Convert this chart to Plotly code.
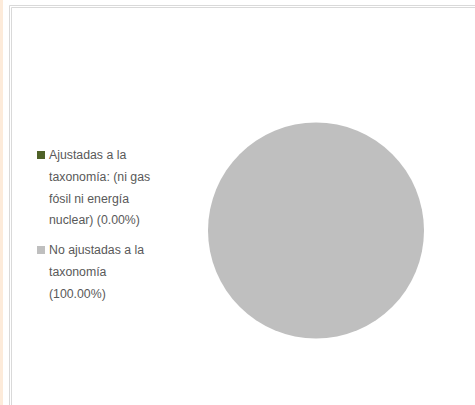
import plotly.graph_objects as go

W, H = 475, 405

labels = ["Ajustadas a la taxonomía: (ni gas fósil ni energía nuclear)",
          "No ajustadas a la taxonomía"]
values = [0.0, 100.0]
colors = ["#4F6228", "#BFBFBF"]
legend_lines = [
    ["Ajustadas a la", "taxonomía: (ni gas", "fósil ni energía", "nuclear) (0.00%)"],
    ["No ajustadas a la", "taxonomía", "(100.00%)"],
]

fig = go.Figure()
fig.add_trace(go.Pie(
    labels=labels, values=values, sort=False, direction="clockwise",
    marker=dict(colors=colors, line=dict(width=0)),
    textinfo="none", hoverinfo="label+percent", showlegend=False,
    domain=dict(x=[208 / W, 424 / W], y=[1 - 339 / H, 1 - 122 / H]),
))

def px(x):
    return x / W

def py(y):
    return 1 - y / H

shapes = [
    dict(type="rect", xref="paper", yref="paper", x0=0, x1=px(3), y0=0, y1=1,
         fillcolor="#FDEBDA", line=dict(width=0), layer="below"),
    dict(type="line", xref="paper", yref="paper", x0=px(9.5), x1=px(9.5), y0=0, y1=py(5.5),
         line=dict(color="#D9D9D9", width=1)),
    dict(type="line", xref="paper", yref="paper", x0=px(11.5), x1=px(11.5), y0=0, y1=py(7.5),
         line=dict(color="#D9D9D9", width=1)),
    dict(type="line", xref="paper", yref="paper", x0=px(9.5), x1=1, y0=py(5.5), y1=py(5.5),
         line=dict(color="#D9D9D9", width=1)),
    dict(type="line", xref="paper", yref="paper", x0=px(11.5), x1=1, y0=py(7.5), y1=py(7.5),
         line=dict(color="#D9D9D9", width=1)),
]

annotations = []
starts = [155, 250]
spacing = 21.8
for i, lines in enumerate(legend_lines):
    y0 = starts[i]
    shapes.append(dict(type="rect", xref="paper", yref="paper",
                       x0=px(37), x1=px(45), y0=py(y0 + 4), y1=py(y0 - 4),
                       fillcolor=colors[i], line=dict(width=0)))
    for j, t in enumerate(lines):
        annotations.append(dict(
            text=t, xref="paper", yref="paper", x=px(46.5), y=py(y0 + j * spacing),
            xanchor="left", yanchor="middle", showarrow=False,
            font=dict(family="Liberation Sans", size=12.3, color="#595959"),
        ))

fig.update_layout(
    width=W, height=H, margin=dict(l=0, r=0, t=0, b=0),
    paper_bgcolor="white", plot_bgcolor="white",
    shapes=shapes, annotations=annotations,
)

fig.write_html("out.html", config={"displayModeBar": False},
               post_script="document.body.style.margin='0';document.body.style.overflow='hidden';")
